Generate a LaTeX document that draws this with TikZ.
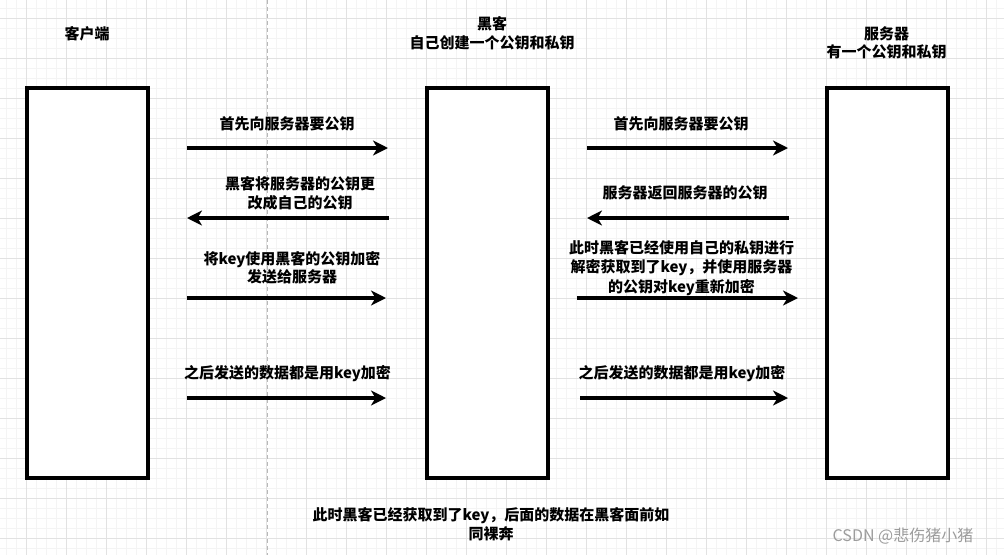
\documentclass[tikz,border=0pt]{standalone}
\usepackage{fontspec}
\newfontfamily\cjk{Noto Sans CJK SC}
\usetikzlibrary{arrows.meta}
\definecolor{gmajor}{HTML}{E2E2E2}
\definecolor{gminor}{HTML}{F4F4F4}
\definecolor{pageline}{HTML}{B8B8B8}
\definecolor{wmark}{HTML}{9C9C9C}
\begin{document}
\begin{tikzpicture}[x=1pt,y=-1pt,
  lbl/.style={font={\cjk\bfseries\fontsize{15}{18.5}\selectfont}, align=center, inner sep=0pt},
  box/.style={draw=black, line width=3.6pt, fill=white, minimum width=121pt, minimum height=390pt, inner sep=0pt},
  msg/.style={line width=3.4pt, -{Stealth[length=15pt,width=15pt,inset=4.5pt]}}]
\useasboundingbox (0,0) rectangle (1004,555);
\fill[white] (0,0) rectangle (1004,555);
% grid
\foreach \x in {6.7,16.7,...,1004} \draw[gminor, line width=0.8pt] (\x,0) -- (\x,555);
\foreach \y in {8.3,18.3,...,555} \draw[gminor, line width=0.8pt] (0,\y) -- (1004,\y);
\foreach \x in {26.7,66.7,...,1004} \draw[gmajor, line width=0.9pt] (\x,0) -- (\x,555);
\foreach \y in {18.3,58.3,...,555} \draw[gmajor, line width=0.9pt] (0,\y) -- (1004,\y);
\draw[pageline, line width=0.9pt, dash pattern=on 4pt off 3pt] (267.7,0) -- (267.7,555);

% headers
\node[lbl] (hclient) at (87,34) {客户端};
\node[lbl] (hhacker) at (492,33.5) {黑客\\自己创建一个公钥和私钥};
\node[lbl] (hserver) at (886.5,43) {服务器\\有一个公钥和私钥};

% lifeline boxes
\node[box] (client) at (87.5,283) {};
\node[box] (hacker) at (487.5,283) {};
\node[box] (server) at (887.5,283) {};

% arrow end points
\coordinate (a1s) at (187,148); \coordinate (a1e) at (388,148);
\coordinate (a2s) at (389,218); \coordinate (a2e) at (187,218);
\coordinate (a3s) at (187,298); \coordinate (a3e) at (386,298);
\coordinate (a4s) at (187,398); \coordinate (a4e) at (386,398);
\coordinate (a5s) at (587,148); \coordinate (a5e) at (788,148);
\coordinate (a6s) at (789,218); \coordinate (a6e) at (587,218);
\coordinate (a7s) at (577,298); \coordinate (a7e) at (798,298);
\coordinate (a8s) at (580,398); \coordinate (a8e) at (788,398);

\draw[msg] (a1s) -- (a1e);
\draw[msg] (a2s) -- (a2e);
\draw[msg] (a3s) -- (a3e);
\draw[msg] (a4s) -- (a4e);
\draw[msg] (a5s) -- (a5e);
\draw[msg] (a6s) -- (a6e);
\draw[msg] (a7s) -- (a7e);
\draw[msg] (a8s) -- (a8e);

% labels
\node[lbl] (l1) at (287,124) {首先向服务器要公钥};
\node[lbl] (l2) at (300,193.5) {黑客将服务器的公钥更\\改成自己的公钥};
\node[lbl] (l3) at (292,268) {将key使用黑客的公钥加密\\发送给服务器};
\node[lbl] (l4) at (287.5,374) {之后发送的数据都是用key加密};
\node[lbl] (l5) at (681,124) {首先向服务器要公钥};
\node[lbl] (l6) at (685,193) {服务器返回服务器的公钥};
\node[lbl, font={\cjk\bfseries\fontsize{15}{19.5}\selectfont}] (l7) at (681.5,268) {此时黑客已经使用自己的私钥进行\\解密获取到了key，并使用服务器\\的公钥对key重新加密};
\node[lbl] (l8) at (682,374) {之后发送的数据都是用key加密};
\node[lbl] (note) at (491,524) {此时黑客已经获取到了key，后面的数据在黑客面前如\\同裸奔};

% watermark
\node[font={\cjk\fontsize{16}{18}\selectfont}, text=wmark, inner sep=0pt] (wm) at (903,536) {CSDN @悲伤猪小猪};
\end{tikzpicture}
\end{document}
